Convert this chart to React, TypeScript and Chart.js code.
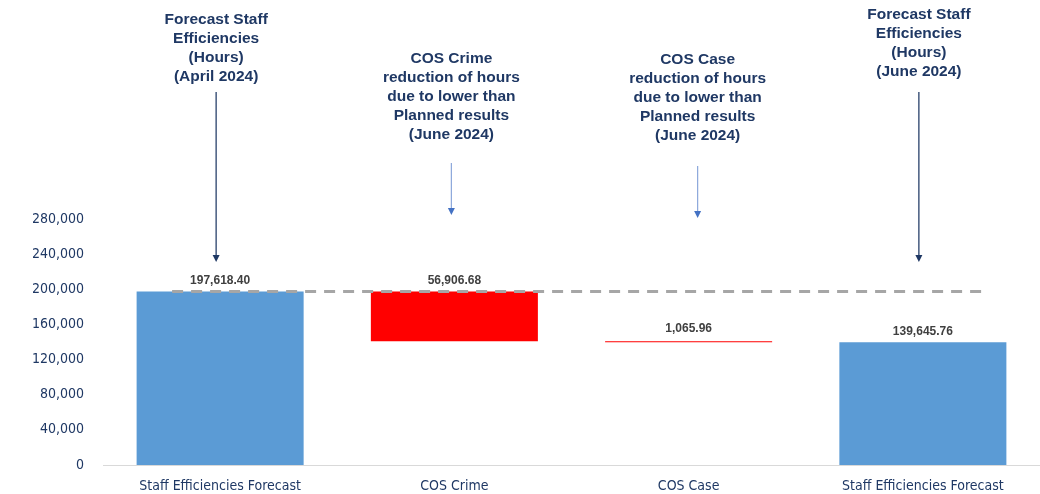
import React, { useEffect, useRef } from "react";
import { Chart, registerables } from "chart.js";

Chart.register(...registerables);

const categories = [
  "Staff Efficiencies Forecast",
  "COS Crime",
  "COS Case",
  "Staff Efficiencies Forecast",
];
const stepValues = [197618.4, -56906.68, -1065.96, 139645.76];
const stepKinds = ["total", "delta", "delta", "total"];
const yTicks = [0, 40000, 80000, 120000, 160000, 200000, 240000, 280000];
const annotationTexts = [
  ["Forecast Staff", "Efficiencies", "(Hours)", "(April 2024)"],
  ["COS Crime", "reduction of hours", "due to lower than", "Planned results", "(June 2024)"],
  ["COS Case", "reduction of hours", "due to lower than", "Planned results", "(June 2024)"],
  ["Forecast Staff", "Efficiencies", "(Hours)", "(June 2024)"],
];

// layout of annotation text boxes (not data)
const annotationLayout = [
  { dx: -4, top: 20, from: 92, to: 262, color: "#1f3864" },
  { dx: -3, top: 59, from: 163, to: 215, color: "#8faadc" },
  { dx: 9, top: 60, from: 166, to: 218, color: "#8faadc" },
  { dx: -4, top: 15, from: 92, to: 262, color: "#1f3864" },
];

function buildRanges() {
  const ranges: [number, number][] = [];
  let running = 0;
  stepValues.forEach((v, i) => {
    if (stepKinds[i] === "total") {
      ranges.push([0, v]);
      running = v;
    } else {
      const next = running + v;
      ranges.push([next, running]);
      running = next;
    }
  });
  return ranges;
}

const fmt = (v: number) =>
  Math.abs(v).toLocaleString("en-US", { minimumFractionDigits: 2, maximumFractionDigits: 2 });

const overlayPlugin = {
  id: "overlay",
  afterDatasetsDraw(chart: any) {
    const { ctx, scales } = chart;
    const x = scales.x;
    const y = scales.y;
    const meta = chart.getDatasetMeta(0);
    const ranges = buildRanges();
    const catW = x.getPixelForValue(1) - x.getPixelForValue(0);

    // dashed reference line at the starting total
    ctx.save();
    ctx.strokeStyle = "#a6a6a6";
    ctx.lineWidth = 3;
    ctx.setLineDash([11, 8]);
    const yRef = y.getPixelForValue(stepValues[0]);
    ctx.beginPath();
    ctx.moveTo(x.getPixelForValue(0) - catW * 0.205, yRef);
    ctx.lineTo(x.getPixelForValue(categories.length - 1) + catW * 0.25, yRef);
    ctx.stroke();
    ctx.restore();

    // data labels
    ctx.save();
    ctx.font = "bold 12px 'Liberation Sans', Arial, sans-serif";
    ctx.fillStyle = "#404040";
    ctx.textAlign = "center";
    ctx.textBaseline = "middle";
    meta.data.forEach((bar: any, i: number) => {
      const top = y.getPixelForValue(Math.max(ranges[i][0], ranges[i][1]));
      const off = stepKinds[i] === "delta" && Math.abs(stepValues[i]) < 5000 ? 13 : 11;
      ctx.fillText(fmt(stepValues[i]), bar.x, top - off);
    });
    ctx.restore();

    // annotations
    ctx.save();
    annotationTexts.forEach((lines, i) => {
      const lay = annotationLayout[i];
      const cx = x.getPixelForValue(i) + lay.dx;
      ctx.font = "bold 15.5px 'Liberation Sans', Arial, sans-serif";
      ctx.fillStyle = "#1f3864";
      ctx.textAlign = "center";
      ctx.textBaseline = "middle";
      lines.forEach((ln, j) => ctx.fillText(ln, cx, lay.top + j * 19));
      ctx.strokeStyle = lay.color;
      ctx.lineWidth = 1.25;
      ctx.setLineDash([]);
      ctx.beginPath();
      ctx.moveTo(cx, lay.from);
      ctx.lineTo(cx, lay.to - 6);
      ctx.stroke();
      ctx.fillStyle = lay.color === "#1f3864" ? "#1f3864" : "#4472c4";
      ctx.beginPath();
      ctx.moveTo(cx - 3.5, lay.to - 7);
      ctx.lineTo(cx + 3.5, lay.to - 7);
      ctx.lineTo(cx, lay.to);
      ctx.closePath();
      ctx.fill();
    });
    ctx.restore();
  },
};

export default function App() {
  const ref = useRef<HTMLCanvasElement | null>(null);

  useEffect(() => {
    if (!ref.current) return;
    const ranges = buildRanges();
    const chart = new Chart(ref.current, {
      type: "bar",
      data: {
        labels: categories,
        datasets: [
          {
            data: ranges as any,
            backgroundColor: stepKinds.map((k) => (k === "total" ? "#5b9bd5" : "#ff0000")),
            borderWidth: 0,
            borderSkipped: false,
            categoryPercentage: 1,
            barPercentage: 0.713,
          },
        ],
      },
      options: {
        animation: false,
        responsive: true,
        maintainAspectRatio: false,
        layout: { padding: { top: 219, left: 33, right: 0, bottom: 0 } },
        plugins: { legend: { display: false }, tooltip: { enabled: false } },
        scales: {
          x: {
            grid: { display: false, drawTicks: false },
            border: { display: true, color: "#d9d9d9", width: 1 },
            ticks: {
              color: "#1f3864",
              padding: 13,
              maxRotation: 0,
              autoSkip: false,
              font: { family: "'Liberation Sans Narrow', 'DejaVu Sans Condensed', sans-serif", size: 14 },
            },
            afterFit: (s: any) => {
              s.height = 29;
            },
          },
          y: {
            min: 0,
            max: 280000,
            grid: { display: false, drawTicks: false },
            border: { display: false },
            afterBuildTicks: (s: any) => {
              s.ticks = yTicks.map((v) => ({ value: v }));
            },
            ticks: {
              color: "#1f3864",
              padding: 19,
              font: { family: "'Liberation Sans Narrow', 'DejaVu Sans Condensed', sans-serif", size: 14 },
              callback: (v: any) => Number(v).toLocaleString("en-US"),
            },
            afterFit: (s: any) => {
              s.width = 70;
            },
          },
        },
      },
      plugins: [overlayPlugin],
    });
    return () => chart.destroy();
  }, []);

  return (
    <div style={{ position: "fixed", left: 0, top: 0, width: 1040, height: 494, background: "#fff" }}>
      <canvas ref={ref} />
    </div>
  );
}
